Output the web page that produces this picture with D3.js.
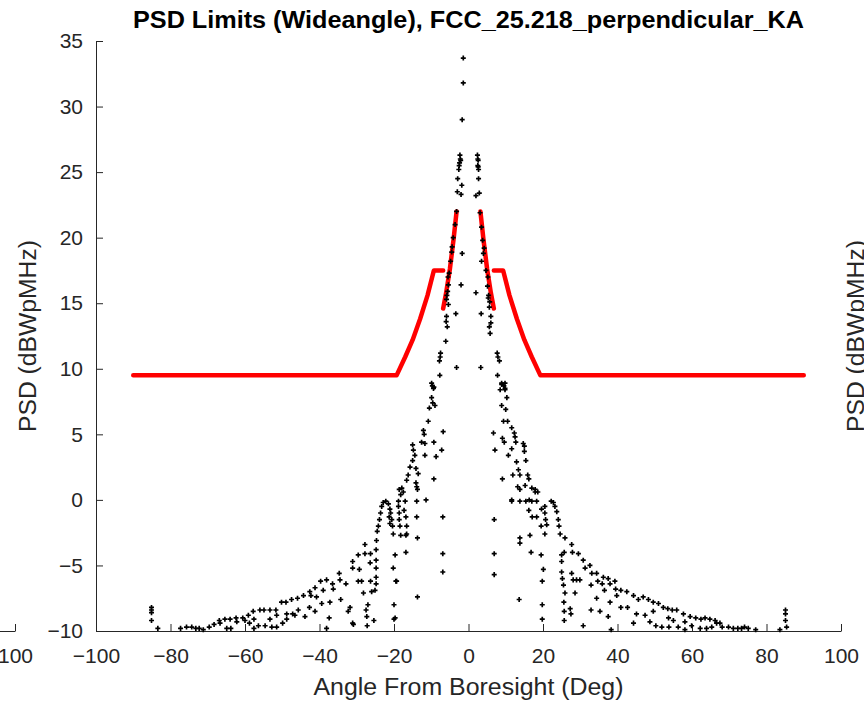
<!DOCTYPE html>
<html>
<head>
<meta charset="utf-8">
<script src="https://cdn.jsdelivr.net/npm/d3@7"></script>
<style>
  body { margin: 0; background: #fff; }
  text { font-family: "Liberation Sans", Arial, sans-serif; }
</style>
</head>
<body>
<div id="chart"></div>
<script>
// PSD limits scatter (wideangle)

const height = 708,
    width = 864,
    margin = ({ top: 41, right: 23, bottom: 77, left: 96 });

// axis ticks
const xTicks = [-100, -80, -60, -40, -20, 0, 20, 40, 60, 80, 100];
const yTicks = [-10, -5, 0, 5, 10, 15, 20, 25, 30, 35];

// red limit mask (null breaks the segments)
const limitAngle = [-90, -19.3, -17, -15, -13, -11, -9.3, -6.8, null,
    -6.8, -6, -5, -4, -3.2, null,
    3.2, 4, 5, 6, 6.8, null,
    6.8, 9.3, 11, 13, 15, 17, 19.3, 90];
const limitPsd = [9.5, 9.5, 10.9, 12.2, 13.8, 15.6, 17.5, 17.5, null,
    14.6, 15.8, 17.6, 19.9, 22.0, null,
    22.0, 19.9, 17.6, 15.8, 14.6, null,
    17.5, 17.5, 15.6, 13.8, 12.2, 10.9, 9.5, 9.5];

// black points: measured PSD vs angle
const psdAngle = [
  -1.4, -1.4, -1.7,
  -2.3, -2.1, -2.5, -2.6, -2.9, -1.8, -3.0, -2.0, -2.2, -2.4,
  2.4, 2.6, 2.5, 2.7, 2.7, 2.9, 2.0, 2.5, 2.6,
  -3.2, -3.6, -4.1, -4.5, -1.7, -4.8, -5.2, -5.4, -2.0, -5.9, -5.4, -5.9, -3.4, -5.7, -6.1, -7.5, -7.8, -3.2, -7.7, -9.9, -9.4,
  -5.6, -5.8, -6.0, -5.5, -7.6, -9.7, -4.4,
  3.1, 3.5, 3.8, 4.0, 3.5, 4.7, 5.1, 2.0, 5.3, 5.6, 3.4, 6.0, 5.6, 5.8, 7.7, 8.3, 3.3, 7.8, 8.9, 9.8,
  5.4, 5.7, 6.0, 5.2, 7.9, 9.5, 4.2,
  -85.1, -85.1, -85.1, -85.1, -83.4, -77.3, -75.7, -74.3, -73.2, -72.3, -71.2, -69.6, -68.3, -66.9, -66.7,
  -65.4, -64.9, -64.0, -63.8, -62.4, -62.2, -60.6, -60.0, -59.1, -58.8, -57.8, -57.6, -57.6, -56.4, -56.0,
  -54.9, -54.6, -53.3, -52.8, -53.3, -51.7, -51.5, -51.5, -50.2, -49.9, -49.0, -48.8, -48.8, -47.5, -47.2,
  -46.6, -45.9, -45.7, -44.3, -43.9, -42.6, -42.7, -42.3, -41.2, -41.2, -40.8, -39.7, -39.4, -39.0, -38.1,
  -37.4, -37.2, -36.5, -36.3, -34.7, -34.3, -34.5, -32.9, -32.3, -31.8, -31.1, -31.1, -31.1, -29.6, -29.3,
  -29.6, -28.7, -28.2, -27.8, -27.8, -27.5, -27.3, -27.2, -26.3, -26.4, -26.3, -26.0, -25.4, -24.8, -24.8,
  -24.8, -24.8, -24.8, -25.1, -24.7, -24.5, -24.2, -23.9, -23.6, -23.3, -22.9, -22.2, -21.5, -21.1, -20.9,
  -20.6, -20.4, -20.2, -21.3, -21.1, -19.7, -20.2, -19.5, -20.0, -19.7, -18.6, -17.9, -17.5, -18.2, -18.8,
  -18.8, -18.6, -18.6, -18.4, -18.2, -17.0, -17.3, -16.8, -16.6, -16.8, -16.2, -16.6, -15.7, -15.0, -15.0,
  -14.8, -14.4, -14.1, -14.1, -13.9, -13.7, -13.9, -13.9, -13.7, -13.7, -13.5, -12.6, -12.1, -11.9, -11.7,
  -11.7, -11.4, -10.8, -10.5, -9.9, -9.6, -9.3, -9.0, -9.3, -9.3, -8.7, -7.2, -6.8, -6.9, -6.9, -6.9,
  -30.9, -38.1, -27.0, -20.0, -19.3, -16.8, -16.6,
  8.9, 9.8, 8.5, 9.8, 10.3, 8.9, 10.0, 9.4, 10.5, 6.7, 11.6, 12.3, 12.5, 9.1, 9.6, 12.7, 7.1, 11.6, 14.7, 15.0,
  15.0, 15.4, 10.7, 12.9, 9.1, 11.9, 13.4, 13.8, 15.9, 16.2, 13.2, 13.8, 15.2, 17.0, 17.9, 18.6, 11.6, 13.8, 15.4, 17.0,
  18.3, 16.2, 17.1, 18.3, 19.6, 20.5, 22.2, 22.8, 23.2, 23.7, 24.1, 24.3, 24.6, 20.5, 20.7, 21.0, 19.5, 20.5, 6.9, 13.8,
  13.8, 16.5, 16.8, 19.5, 20.1, 19.8, 19.8, 19.8, 6.9, 6.9, 13.6, 25.9, 25.7, 25.0, 25.0, 25.0, 25.2, 25.5, 25.9, 25.6,
  25.7, 25.7, 27.3, 27.5, 27.7, 27.9, 27.7, 28.1, 28.6, 29.5, 30.8, 29.0, 29.9, 30.8, 31.3, 32.6, 33.1, 32.9, 32.9, 34.4,
  34.7, 34.4, 35.3, 36.2, 35.9, 36.5, 37.5, 38.0, 38.0, 37.5, 38.3, 39.3, 39.5, 39.8, 40.9, 40.9, 42.5, 42.7, 44.3, 44.3,
  45.1, 45.6, 46.9, 47.4, 48.3, 48.7, 49.6, 49.6, 50.3, 51.0, 51.9, 52.3, 53.5, 53.7, 53.8, 54.7, 55.0, 55.9, 56.3, 57.7,
  58.1, 58.1, 59.5, 59.9, 61.0, 62.2, 62.4, 63.5, 63.9, 64.8, 65.3, 66.2, 66.6, 67.5, 68.1, 69.8, 71.1, 72.3, 73.3, 74.1,
  75.1, 77.1, 83.6, 85.1, 85.1, 85.1, 85.4,
  11.6, 16.3, 17.9
];
const psdValue = [
  33.7, 31.8, 29.0,
  26.3, 25.9, 25.5, 25.2, 24.5, 24.0, 23.5, 23.3, 26.0, 25.7,
  26.3, 25.9, 25.5, 25.2, 24.5, 23.4, 23.2, 26.0, 25.4,
  22.0, 21.0, 20.0, 18.9, 18.8, 18.2, 17.3, 16.4, 16.4, 15.3, 14.9, 14.0, 14.2, 13.2, 12.1, 11.2, 10.6, 10.1, 9.5, 8.9, 8.5,
  15.9, 15.6, 13.6, 17.0, 10.9, 8.7, 19.3,
  21.9, 20.8, 19.8, 18.8, 18.2, 17.5, 16.3, 15.8, 15.4, 14.7, 14.2, 14.0, 13.2, 12.7, 11.2, 10.6, 10.1, 9.5, 8.9, 8.5,
  15.6, 15.1, 13.5, 17.0, 10.9, 8.7, 19.2,
  -8.2, -8.4, -8.6, -9.2, -9.8, -9.8, -9.7, -9.7, -9.8, -9.8, -9.9, -9.7, -9.5, -9.2, -9.4,
  -9.1, -9.8, -9.1, -9.8, -9.0, -9.3, -9.0, -9.2, -8.8, -9.4, -8.5, -9.8, -9.1, -9.6, -8.4,
  -8.4, -9.6, -8.4, -9.7, -9.1, -8.4, -9.7, -8.8, -7.8, -9.4, -7.8, -8.7, -9.1, -7.6, -8.7,
  -8.8, -7.5, -8.4, -7.3, -8.9, -7.0, -8.2, -7.3, -6.7, -8.5, -7.4, -6.2, -7.9, -6.9, -6.1,
  -9.0, -7.8, -6.4, -6.8, -5.6, -7.6, -6.1, -6.4, -8.5, -8.2, -4.7, -5.2, -9.4, -4.2, -5.3,
  -6.2, -6.2, -7.1, -3.4, -4.1, -8.4, -8.9, -9.6, -4.1, -4.8, -6.2, -7.0, -9.2, -3.8, -4.6,
  -5.2, -5.9, -6.4, -6.9, -3.1, -2.4, -2.0, -1.5, -1.0, -0.5, -0.2, -0.1, -0.3, -0.7, -1.0,
  -1.5, -2.0, -2.6, -1.3, -1.8, -4.2, -5.2, -6.2, -8.0, -9.0, 0.8, 0.9, 0.6, 0.4, -0.1,
  -0.5, -1.0, -1.5, -2.0, -2.7, -0.1, -0.8, -1.3, -2.0, -2.7, 1.9, 1.5, 2.5, 3.0, 4.2,
  3.8, 3.4, 2.4, 1.3, 1.0, 0.8, -0.1, -1.3, -2.9, -7.4, 2.0, 4.4, 5.3, 5.0, 4.3,
  3.4, 0.0, 6.0, 7.0, 7.8, 7.4, 8.6, 7.2, 4.4, 1.6, 3.3, 3.8, 5.2, -1.3, -4.1, -5.5,
  -9.5, -9.8, -8.0, -9.1, -6.2, -4.0, -2.6,
  8.8, 8.9, 8.4, 8.4, 7.8, 7.2, 6.9, 6.0, 6.0, 5.1, 5.5, 5.1, 4.8, 4.7, 4.4, 4.4, 3.8, 3.9, 4.3, 4.1,
  3.7, 3.0, 3.4, 2.9, 1.6, 1.9, 2.3, 1.9, 1.9, 1.6, 1.0, 0.8, 1.1, 0.9, 0.6, 0.6, -0.1, -0.1, -0.1, -0.1,
  -0.1, -0.8, -1.3, -1.3, -0.7, -0.5, -0.1, -0.2, -0.5, -0.9, -1.5, -2.0, -2.6, -1.0, -1.5, -1.9, -2.0, -2.6, -1.5, -2.9,
  -3.3, -2.7, -4.0, -4.2, -5.3, -6.2, -8.0, -9.1, -4.1, -5.7, -7.6, -2.9, -4.0, -4.2, -4.7, -5.5, -6.0, -6.5, -7.1, -7.8,
  -8.5, -9.2, -8.3, -8.7, -3.4, -4.0, -5.6, -6.1, -7.1, -4.1, -4.6, -6.1, -6.1, -9.6, -5.2, -5.0, -5.6, -6.5, -8.4, -5.6,
  -6.2, -7.5, -8.5, -5.9, -6.4, -6.9, -6.0, -6.4, -7.8, -8.9, -9.9, -6.2, -6.8, -7.3, -6.9, -8.2, -7.0, -8.2, -9.4, -7.3,
  -8.7, -7.6, -7.4, -8.8, -7.6, -9.3, -7.8, -8.5, -9.6, -7.9, -9.7, -8.2, -8.3, -9.0, -9.7, -8.4, -9.2, -8.4, -9.7, -8.7,
  -9.3, -9.9, -8.9, -9.6, -9.0, -9.8, -9.1, -9.0, -9.8, -9.1, -9.7, -9.2, -9.4, -9.4, -9.7, -9.7, -9.8, -9.8, -9.8, -9.7,
  -9.8, -9.9, -9.9, -8.4, -8.7, -9.2, -9.7,
  0.0, 0.0, 0.8
];

const svg = d3.select("#chart")
    .append("svg")
    .attr("width", width)
    .attr("height", height);

let x = d3.scaleLinear()
    .domain([-100, 100])
    .range([margin.left, width - margin.right]);

let y = d3.scaleLinear()
    .domain([-10, 35])
    .range([height - margin.bottom, margin.top]);

// neighbouring subplot on the left, only its right end shows
let xLeft = d3.scaleLinear()
    .domain([-100, 100])
    .range([15 - (width - margin.right - margin.left), 15]);

const axisColor = "#262626";

function styleAxis(g) {
  g.selectAll("path").attr("stroke", axisColor).attr("stroke-width", 1);
  g.selectAll("line").attr("stroke", axisColor).attr("stroke-width", 1);
  g.selectAll("text").attr("fill", axisColor).attr("font-size", 21)
    .attr("font-family", "Liberation Sans, Arial, sans-serif");
}

svg.append("g")
  .attr("transform", `translate(0,${height - margin.bottom})`)
  .call(d3.axisBottom(xLeft).tickValues([100]).tickSizeInner(-7).tickSizeOuter(0).tickPadding(17))
  .call(styleAxis);

svg.append("g")
  .attr("transform", `translate(${margin.left},0)`)
  .call(d3.axisLeft(y).tickValues(yTicks).tickSizeInner(-7).tickSizeOuter(0).tickPadding(13))
  .call(styleAxis);

svg.append("g")
  .attr("transform", `translate(0,${height - margin.bottom})`)
  .call(d3.axisBottom(x).tickValues(xTicks).tickSizeInner(-7).tickSizeOuter(0).tickPadding(17))
  .call(styleAxis);

// red limit mask, drawn under the points
const limit = limitAngle.map((a, i) => ({ a: a, v: limitPsd[i] }));
let line = d3.line()
    .defined(d => d.a !== null)
    .x(d => x(d.a))
    .y(d => y(d.v));

svg.append("path")
  .datum(limit)
  .attr("d", line)
  .attr("fill", "none")
  .attr("stroke", "#ff0000")
  .attr("stroke-width", 4.5)
  .attr("stroke-linejoin", "round")
  .attr("stroke-linecap", "round");

// black measured points
const pts = psdAngle.map((a, i) => ({ a: a, v: psdValue[i] }));
svg.append("g")
  .selectAll("path")
  .data(pts)
  .join("path")
    .attr("transform", d => `translate(${x(d.a)},${y(d.v)})`)
    .attr("d", d3.symbol(d3.symbolCross, 14))
    .attr("fill", "#000");

// title and labels
svg.append("text")
  .attr("x", (margin.left + width - margin.right) / 2)
  .attr("y", 28)
  .attr("text-anchor", "middle")
  .attr("font-weight", "bold")
  .attr("font-size", 23)
  .attr("textLength", 671)
  .attr("lengthAdjust", "spacingAndGlyphs")
  .attr("fill", "#000")
  .text("PSD Limits (Wideangle), FCC_25.218_perpendicular_KA");

svg.append("text")
  .attr("x", (margin.left + width - margin.right) / 2)
  .attr("y", 695)
  .attr("text-anchor", "middle")
  .attr("font-size", 23)
  .attr("textLength", 310)
  .attr("lengthAdjust", "spacingAndGlyphs")
  .attr("fill", axisColor)
  .text("Angle From Boresight (Deg)");

svg.append("text")
  .attr("transform", `translate(36,${(margin.top + height - margin.bottom) / 2}) rotate(-90)`)
  .attr("text-anchor", "middle")
  .attr("font-size", 23)
  .attr("textLength", 192)
  .attr("lengthAdjust", "spacingAndGlyphs")
  .attr("fill", axisColor)
  .text("PSD (dBWpMHz)");

// y label of the neighbouring subplot on the right
svg.append("text")
  .attr("transform", `translate(864,${(margin.top + height - margin.bottom) / 2}) rotate(-90)`)
  .attr("text-anchor", "middle")
  .attr("font-size", 23)
  .attr("textLength", 192)
  .attr("lengthAdjust", "spacingAndGlyphs")
  .attr("fill", axisColor)
  .text("PSD (dBWpMHz)");
</script>
</body>
</html>
